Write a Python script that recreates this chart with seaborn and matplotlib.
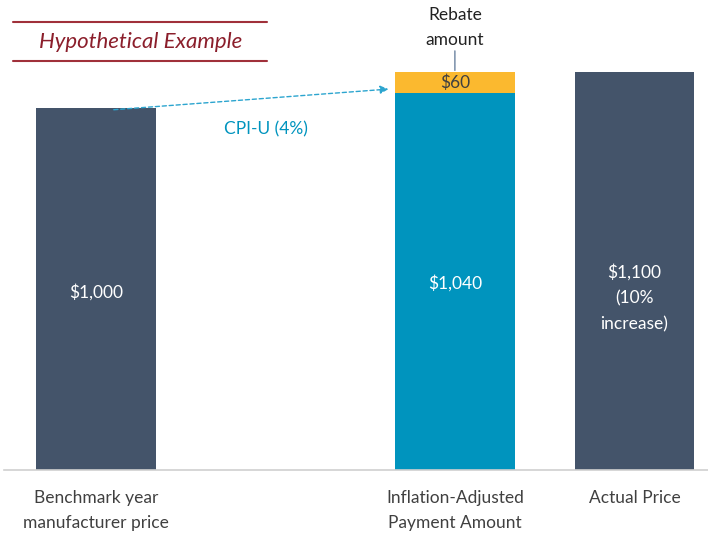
import matplotlib
matplotlib.use("Agg")
import matplotlib.pyplot as plt
import pandas as pd
import seaborn as sns

# Data
categories = ["Benchmark year\nmanufacturer price", " ", "Inflation-Adjusted\nPayment Amount", "Actual Price"]
base_values = [1000, 0, 1040, 1100]
rebate_values = [0, 0, 60, 0]
bar_colors = ["#44546A", "#FFFFFF", "#0094BE", "#44546A"]
value_labels = ["$1,000", "", "$1,040", "$1,100\n(10%\nincrease)"]
label_heights = [492, 0, 516, 475]

df = pd.DataFrame({"category": categories, "base": base_values, "rebate": rebate_values})
df["total"] = df["base"] + df["rebate"]

sns.set_style("white")
plt.rcParams["font.family"] = ["Lato", "DejaVu Sans"]

fig = plt.figure(figsize=(7.08, 5.33), dpi=100)
ax = fig.add_axes([0.006, 0.118, 0.994, 0.882])

# stacked: totals (gold rebate) behind, base on top
sns.barplot(data=df, x="category", y="total", color="#FBB92F", width=0.667,
            saturation=1, linewidth=0, ax=ax)
sns.barplot(data=df, x="category", y="base", hue="category", palette=bar_colors,
            legend=False, width=0.667, saturation=1, linewidth=0, ax=ax)

ax.set_xlim(-0.51, 3.41)
ax.set_ylim(0, 1298)
ax.set_xlabel("")
ax.set_ylabel("")
ax.set_yticks([])
for s in ["top", "right", "left"]:
    ax.spines[s].set_visible(False)
ax.spines["bottom"].set_color("#D0D0D0")
ax.spines["bottom"].set_linewidth(1.2)
ax.tick_params(axis="x", length=0, pad=14.5, labelsize=12.5, labelcolor="#404040")
for lbl in ax.get_xticklabels():
    lbl.set_linespacing(1.65)

# value labels inside bars
for i, (lab, h) in enumerate(zip(value_labels, label_heights)):
    if lab:
        ax.text(i, h, lab, ha="center", va="center", color="white", fontsize=12.5,
                linespacing=1.75)

# rebate label
i_adj = 2
ax.text(i_adj, df["base"][i_adj] + df["rebate"][i_adj] / 2, "$" + str(rebate_values[i_adj]),
        ha="center", va="center", color="#404040", fontsize=12.5)
ax.annotate("Rebate\namount", xy=(i_adj, df["total"][i_adj]), xytext=(i_adj, 1222),
            ha="center", va="center", fontsize=12.5, color="#222222", linespacing=1.65,
            arrowprops=dict(arrowstyle="-", color="#8497B0", lw=1.2, shrinkA=18, shrinkB=1))

# CPI-U arrow
ax.annotate("", xy=(1.63, df["base"][i_adj] + 12), xytext=(0.1, df["base"][0] - 5),
            arrowprops=dict(arrowstyle="-|>", color="#2CA5CF", lw=1.0, linestyle=(0, (3, 2)),
                            mutation_scale=12, shrinkA=0, shrinkB=0))
ax.text(0.95, 940, "CPI-U (4%)", ha="center", va="center", color="#0094BE", fontsize=12.5)

# Hypothetical Example header
fig.add_artist(plt.Line2D([0.018, 0.377], [0.959, 0.959], color="#A0303A", lw=1.5))
fig.add_artist(plt.Line2D([0.018, 0.377], [0.886, 0.886], color="#A0303A", lw=1.5))
fig.text(0.198, 0.921, "Hypothetical Example", ha="center", va="center",
         fontsize=16, style="italic", color="#8B1E2B")

fig.savefig("out.png", dpi=100)
